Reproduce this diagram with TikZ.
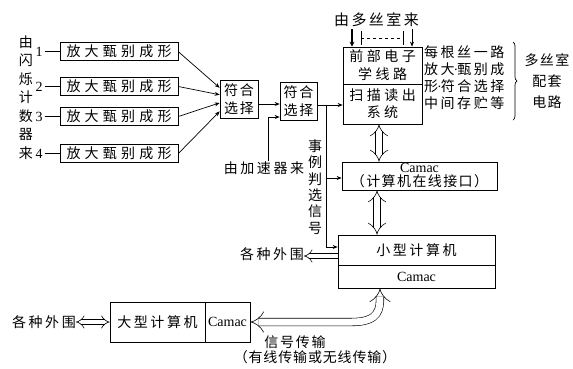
\documentclass[tikz,border=0pt]{standalone}
\usepackage{fontspec}
\setmainfont{Liberation Serif}
\newfontfamily\cjk[LetterSpace=18]{Noto Sans CJK SC}
\usetikzlibrary{arrows.meta,calc,decorations.pathreplacing}
\newcommand{\mdot}{{\rmfamily\fontsize{14}{17}\selectfont\kern-1pt·\kern-1pt}}
\begin{document}
\begin{tikzpicture}[x=1pt,y=-1pt,
  lw/.style={line width=0.7pt},
  box/.style={draw,lw,inner sep=0pt,align=center,font=\cjk\fontsize{14}{17}\selectfont},
  txt/.style={inner sep=0pt,align=center,font=\cjk\fontsize{14}{17}\selectfont},
  lat/.style={inner sep=0pt,font=\fontsize{14}{14}\selectfont},
  arr/.style={lw,-{Stealth[length=5pt,width=4pt]}},
  dbl/.style={line width=0.6pt,double,double distance=6pt,{Implies}-{Implies}},
]
\useasboundingbox (0,0) rectangle (573,368);

% source label
\node[txt,font=\cjk\fontsize{14}{18.5}\selectfont] (src) at (26,97.5) {由\\闪\\烁\\计\\数\\器\\来};

% numbers and amplifier boxes
\foreach \i/\y in {1/51.7,2/86.5,3/116.5,4/153.5}{
  \node[lat] (n\i) at (39,\y) {\i};
  \node[box,minimum width=118pt,minimum height=18pt,font=\cjk\fontsize{14}{17}\selectfont\addfontfeature{LetterSpace=30}] (a\i) at (119,\y) {放大甄别成形};
  \draw[lw] ([xshift=2pt]n\i.east) -- (a\i.west);
}

% coincidence boxes
\node[box,minimum width=38pt,minimum height=38pt,font=\cjk\fontsize{14}{18}\selectfont\addfontfeature{LetterSpace=12}] (c1) at (239,99) {符合\\选择};
\node[box,minimum width=37pt,minimum height=38pt,font=\cjk\fontsize{14}{18}\selectfont\addfontfeature{LetterSpace=12}] (c2) at (298.5,101) {符合\\选择};

\draw[arr] (a1.east) -- ($(c1.north west)!0.21!(c1.south west)$);
\draw[arr] (a2.east) -- ($(c1.north west)!0.39!(c1.south west)$);
\draw[arr] (a3.east) -- ($(c1.north west)!0.60!(c1.south west)$);
\draw[arr] (a4.east) -- ($(c1.north west)!0.82!(c1.south west)$);
\draw[arr] (c1.east |- 0,104) -- (c2.west |- 0,104);

% front-end electronics
\node[box,minimum width=79pt,minimum height=37pt,font=\cjk\fontsize{14}{18}\selectfont\addfontfeature{LetterSpace=25}] (fe1) at (382.5,65.5) {前部电子\\学线路};
\node[box,minimum width=79pt,minimum height=40pt,font=\cjk\fontsize{14}{17}\selectfont\addfontfeature{LetterSpace=25}] (fe2) at (382.5,104) {扫描读出\\系统};
\draw[arr] (c2.east |- 0,105) -- (fe2.west |- 0,105);

% from multiwire chamber
\node[txt,font=\cjk\fontsize{15}{17}\selectfont\addfontfeature{LetterSpace=16}] (dsl) at (376.5,20) {由多丝室来};
\coordinate (w1) at (352,29);
\coordinate (w2) at (412,29);
\coordinate (t1) at (361,31);
\coordinate (t2) at (403,31);
\draw[lw,line width=1.5pt,-{Stealth[length=5pt,width=5pt]}] (w1) -- (w1 |- fe1.north);
\draw[arr] (w2) -- (w2 |- fe1.north);
\draw[lw] (t1) -- ++(0,14);
\draw[lw] (t2) -- ++(0,14);
\draw[lw,dashed] ($(t1)+(0,7)$) -- ($(t2)+(0,7)$);

% description
\node[txt,anchor=west,align=left] (desc) at (424,77.75) {每根丝一路\\放大\mdot 甄别成\\形\mdot 符合选择\\中间存贮等};
\coordinate (bt) at (513,42);
\coordinate (bb) at (513,120);
\draw[lw,decorate,decoration={brace,amplitude=4pt}] (bt) -- (bb);
\node[txt,font=\cjk\fontsize{14}{21}\selectfont\addfontfeature{LetterSpace=10}] (msl) at (547,81) {多丝室\\配套\\电路};

% camac interface
\node[box,minimum width=155pt,minimum height=28pt] (ci) at (419.5,176)
  {{\rmfamily\fontsize{14}{14}\selectfont Camac}\\[-3pt]{\addfontfeature{LetterSpace=10}（计算机在线接口）}};
\draw[dbl] (fe2.south -| 379,0) -- (ci.north -| 379,0);

% small computer
\node[box,minimum width=157pt,minimum height=30pt] (sc1) at (416.5,250) {小型计算机};
\node[box,minimum width=157pt,minimum height=23pt,font=\rmfamily\fontsize{14}{14}\selectfont] (sc2) at (416.5,276.5) {Camac};
\draw[dbl] (ci.south -| 377,0) -- (sc1.north -| 377,0);

% accelerator and event selection signal
\node[txt] (acc) at (264,168) {由加速器来};
\draw[arr] (acc.north -| 268,0) |- (c2.west |- 0,117);
\node[txt,font=\cjk\fontsize{14}{16.4}\selectfont] (sig) at (315,187) {事\\例\\判\\选\\信\\号};
\coordinate (br) at (326,105);
\draw[arr] (br) |- (sc1.west |- 0,247);
\draw[arr] (br |- 0,178) -- (ci.west |- 0,178);

% peripherals of small computer
\node[txt] (per1) at (272,254) {各种外围};
\draw[line width=0.6pt,double,double distance=4pt,-{Implies}] (sc1.west |- 0,256) -- (per1.east |- 0,256);

% large computer
\node[box,minimum width=95pt,minimum height=40pt] (lc1) at (157.5,322) {大型计算机};
\node[box,minimum width=45pt,minimum height=40pt,font=\rmfamily\fontsize{14}{14}\selectfont] (lc2) at (227.5,322) {Camac};
\node[txt] (per2) at (44,322) {各种外围};
\draw[line width=0.6pt,double,double distance=4pt,{Implies}-{Implies}] (per2.east) -- (lc1.west);

% signal transmission
\draw[line width=0.6pt,double,double distance=7pt,{Implies}-{Implies}]
  (lc2.east) -- (352,322) .. controls (380,322) and (380,308) .. (sc2.south -| 380,0);
\node[txt,font=\cjk\fontsize{14}{17}\selectfont\addfontfeature{LetterSpace=12}] (tr1) at (295,342) {信号传输};
\node[txt,font=\cjk\fontsize{14}{17}\selectfont\addfontfeature{LetterSpace=6}] (tr2) at (315,357) {（有线传输或无线传输）};
\end{tikzpicture}
\end{document}
